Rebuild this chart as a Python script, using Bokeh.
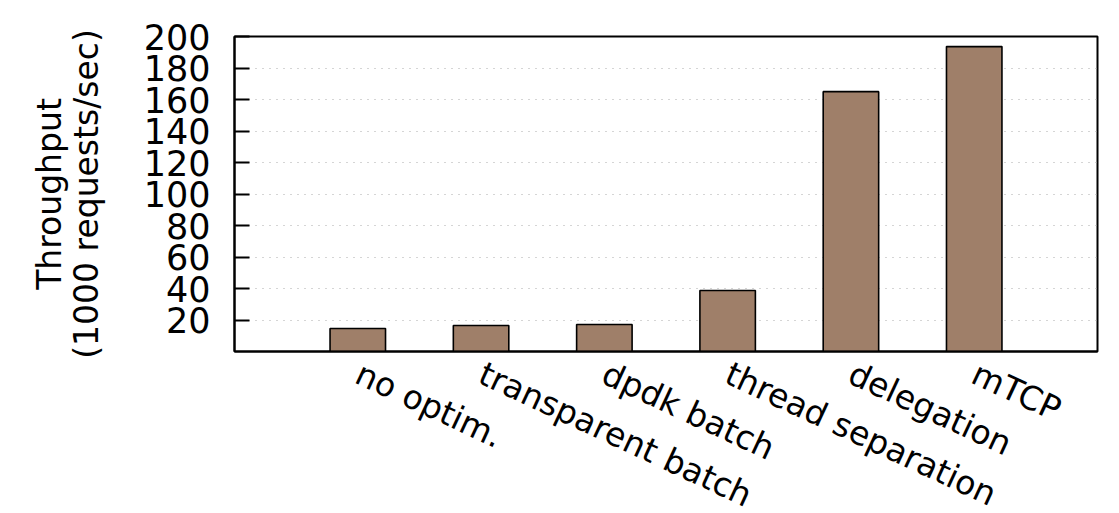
from bokeh.plotting import figure
from bokeh.models import FixedTicker, Range1d
from bokeh.embed import file_html
from bokeh.resources import INLINE

categories = ["no optim.", "transparent batch", "dpdk batch", "thread separation", "delegation", "mTCP"]
throughput = [14.6, 16.5, 17.1, 38.7, 165.0, 193.6]
y_ticks = [20, 40, 60, 80, 100, 120, 140, 160, 180, 200]

xs = list(range(1, len(categories) + 1))

p = figure(frame_width=863, frame_height=315, output_backend="svg", toolbar_location=None,
           x_range=Range1d(0, 7), y_range=Range1d(0, 200),
           min_border_left=234, min_border_top=36, min_border_right=22, min_border_bottom=160)
p.background_fill_color = "white"
p.border_fill_color = "white"
p.outline_line_color = "black"
p.outline_line_width = 2

p.vbar(x=xs, top=throughput, width=0.45, bottom=0,
       fill_color="#9f7f69", line_color="black", line_width=1.6)

FONT = "DejaVu Sans"
p.xgrid.grid_line_color = None
p.ygrid.ticker = FixedTicker(ticks=y_ticks)
p.ygrid.grid_line_color = "#aaaaaa"
p.ygrid.grid_line_dash = "1 6"
p.ygrid.grid_line_width = 1

p.yaxis.ticker = FixedTicker(ticks=y_ticks)
p.yaxis.major_tick_in = 15
p.yaxis.major_tick_out = 0
p.yaxis.minor_tick_line_color = None
p.yaxis.major_tick_line_width = 2
p.yaxis.axis_line_width = 2
p.yaxis.major_label_text_font = FONT
p.yaxis.major_label_text_font_size = "35px"
p.yaxis.major_label_text_color = "black"
p.yaxis.major_label_standoff = 24
p.yaxis.axis_label = "Throughput\n(1000 requests/sec)"
p.yaxis.axis_label_text_font = FONT
p.yaxis.axis_label_text_font_size = "33px"
p.yaxis.axis_label_text_font_style = "normal"
p.yaxis.axis_label_text_color = "black"
p.yaxis.axis_label_standoff = 35
p.yaxis.axis_label_text_line_height = 0.95

p.xaxis.ticker = FixedTicker(ticks=xs)
p.xaxis.major_label_overrides = {x: c for x, c in zip(xs, categories)}
p.xaxis.major_tick_line_color = None
p.xaxis.minor_tick_line_color = None
p.xaxis.axis_line_width = 2
p.xaxis.major_label_orientation = -0.4363
p.xaxis.major_label_text_font = FONT
p.xaxis.major_label_text_font_size = "33px"
p.xaxis.major_label_text_color = "black"
p.xaxis.major_label_standoff = 14

open("out.html", "w").write(file_html(p, INLINE))
